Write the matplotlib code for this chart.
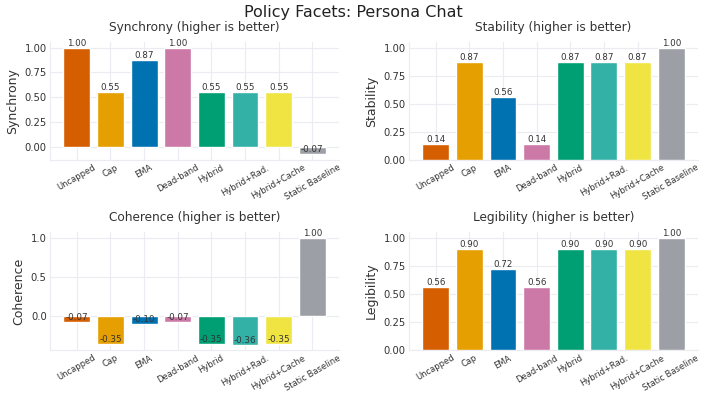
import numpy as np
import matplotlib.pyplot as plt

# policies and per-facet scores
policies = ["Uncapped", "Cap", "EMA", "Dead-band", "Hybrid",
            "Hybrid+Rad.", "Hybrid+Cache", "Static Baseline"]
synchrony = [1.00, 0.55, 0.87, 1.00, 0.55, 0.55, 0.55, -0.07]
stability = [0.14, 0.87, 0.56, 0.14, 0.87, 0.87, 0.87, 1.00]
coherence = [-0.07, -0.35, -0.10, -0.07, -0.35, -0.36, -0.35, 1.00]
legibility = [0.56, 0.90, 0.72, 0.56, 0.90, 0.90, 0.90, 1.00]

colors = ["#d55e00", "#e69f00", "#0072b2", "#cc79a7", "#009e73",
          "#33b1a7", "#f0e442", "#9ca0a6"]

panels = [("Synchrony", synchrony), ("Stability", stability),
          ("Coherence", coherence), ("Legibility", legibility)]

plt.rcParams['font.family'] = 'DejaVu Sans'
grid_col = '#ebebf2'
txt_col = '#333333'

fig, axes = plt.subplots(2, 2, figsize=(7.07, 3.98), dpi=100)
x = np.arange(len(policies))

for ax, (name, vals) in zip(axes.flat, panels):
    ax.bar(x, vals, color=colors, edgecolor='white', linewidth=1, zorder=3)
    for xi, v in zip(x, vals):
        ax.text(xi, v, f"{v:.2f}", ha='center', va='bottom', fontsize=6.3,
                color=txt_col, zorder=4)
    ax.set_title(f"{name} (higher is better)", fontsize=8.7, color=txt_col, pad=8)
    ax.set_ylabel(name, fontsize=9, color=txt_col)
    ax.set_xticks(x)
    ax.set_xticklabels(policies, rotation=30, fontsize=6, color=txt_col)
    ax.tick_params(axis='y', labelsize=7.2, colors=txt_col)
    ax.tick_params(length=0, pad=2.5)
    ax.grid(True, color=grid_col, linewidth=0.8, zorder=0)
    ax.set_axisbelow(True)
    for s in ['top', 'right']:
        ax.spines[s].set_visible(False)
    for s in ['left', 'bottom']:
        ax.spines[s].set_color(grid_col)

fig.suptitle("Policy Facets: Persona Chat", fontsize=11.5, color='#222222', y=0.987)
fig.subplots_adjust(left=0.071, right=0.987, top=0.894, bottom=0.121,
                    wspace=0.243, hspace=0.62)
fig.savefig("out.png", dpi=100)
